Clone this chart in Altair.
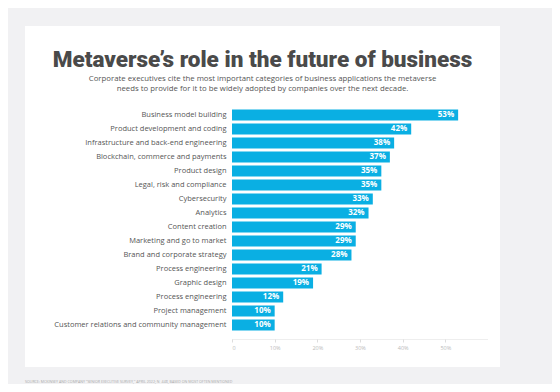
import altair as alt
import pandas as pd

categories = [
    "Business model building",
    "Product development and coding",
    "Infrastructure and back-end engineering",
    "Blockchain, commerce and payments",
    "Product design",
    "Legal, risk and compliance",
    "Cybersecurity",
    "Analytics",
    "Content creation",
    "Marketing and go to market",
    "Brand and corporate strategy",
    "Process engineering",
    "Graphic design",
    "Process engineering",
    "Project management",
    "Customer relations and community management",
]
values = [53, 42, 38, 37, 35, 35, 33, 32, 29, 29, 28, 21, 19, 12, 10, 10]
x_ticks = [0, 10, 20, 30, 40, 50]

title_text = "Metaverse\u2019s role in the future of business"
subtitle_lines = [
    "Corporate executives cite the most important categories of business applications the metaverse",
    "needs to provide for it to be widely adopted by companies over the next decade.",
]
source_text = "SOURCE: MCKINSEY AND COMPANY \"SENIOR EXECUTIVE SURVEY,\" APRIL 2022; N=448, BASED ON MOST OFTEN MENTIONED"

df = pd.DataFrame({"rank": list(range(len(categories))), "category": categories, "value": values})
df["label"] = df["value"].astype(str) + "%"

label_expr = "[" + ",".join("'" + c.replace("'", "\\'") + "'" for c in categories) + "][datum.value]"

BAR = "#0aafe3"
FONT = "Open Sans"
dummy = alt.Data(values=[{}])

panel = alt.Chart(dummy).mark_rect(color="white").encode(
    x=alt.value(-207), x2=alt.value(268), y=alt.value(-82), y2=alt.value(259)
)

y_enc = alt.Y(
    "rank:O",
    scale=alt.Scale(paddingInner=0.2, paddingOuter=0.1),
    axis=alt.Axis(
        title=None, ticks=False, domain=False, labelExpr=label_expr,
        labelFont=FONT, labelFontSize=7.5, labelColor="#555555", labelPadding=6,
        labelLimit=220, zindex=2,
    ),
)
x_enc = alt.X(
    "value:Q",
    scale=alt.Scale(domain=[0, 60], nice=False),
    axis=alt.Axis(
        title=None, values=x_ticks, grid=False, offset=7, zindex=2,
        domainColor="#dddddd", domainDash=[1, 1], tickColor="#dddddd", tickSize=3,
        labelExpr="datum.value == 0 ? '0' : datum.value + '%'",
        labelFont=FONT, labelFontSize=5.5, labelColor="#bbbbbb", labelPadding=3,
    ),
)

bars = alt.Chart(df).mark_bar(color=BAR).encode(x=x_enc, y=y_enc)
labels = alt.Chart(df).mark_text(
    align="right", baseline="middle", dx=-4, color="white",
    font=FONT, fontSize=8, fontWeight="bold",
).encode(x="value:Q", y="rank:O", text="label:N")

title = alt.Chart(dummy).mark_text(
    align="center", baseline="alphabetic", font="Roboto", fontSize=22.5,
    fontWeight=900, color="#4a4a4a",
).encode(x=alt.value(30.5), y=alt.value(-41), text=alt.value(title_text))

sub1 = alt.Chart(dummy).mark_text(
    align="center", baseline="middle", font=FONT, fontSize=7.8, color="#555555",
).encode(x=alt.value(30.5), y=alt.value(-28.7), text=alt.value(subtitle_lines[0]))
sub2 = alt.Chart(dummy).mark_text(
    align="center", baseline="middle", font=FONT, fontSize=7.8, color="#555555",
).encode(x=alt.value(30.5), y=alt.value(-18.7), text=alt.value(subtitle_lines[1]))

source = alt.Chart(dummy).mark_text(
    align="left", baseline="middle", font=FONT, fontSize=3.6, color="#aaaaaa",
).encode(x=alt.value(-207), y=alt.value(274), text=alt.value(source_text))

chart = alt.layer(panel, bars, labels, title, sub1, sub2, source).properties(
    width=256, height=224,
    padding={"left": 224, "top": 100, "right": 64, "bottom": 52},
    autosize=alt.AutoSizeParams(type="none"),
    background="#f1f1f3",
).configure_view(stroke=None)

chart.save("out.html", embed_options={"renderer": "svg", "actions": False})
